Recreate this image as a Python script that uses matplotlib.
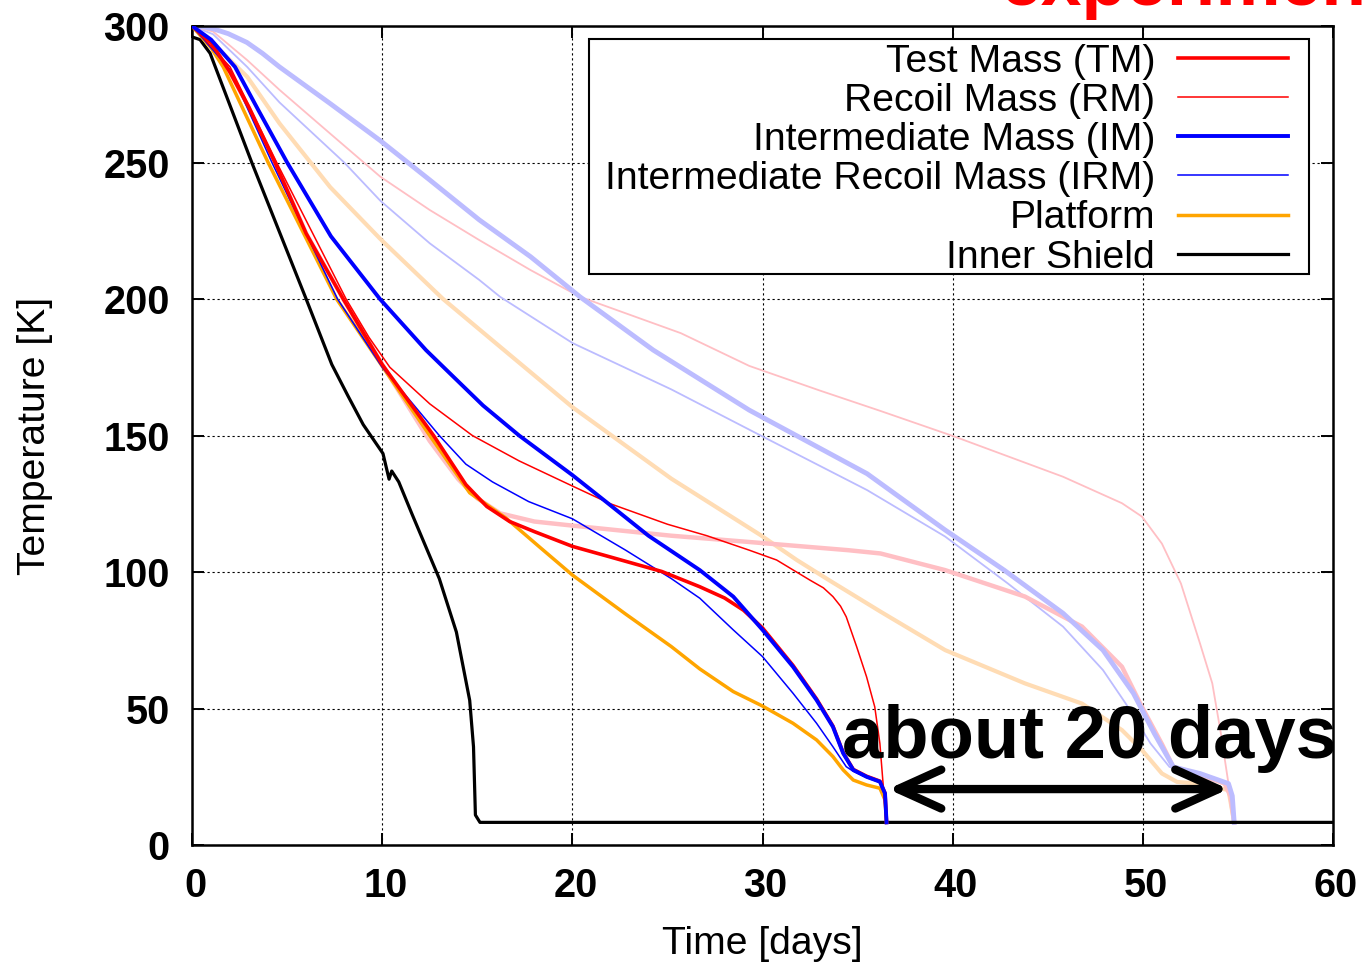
import matplotlib
matplotlib.use('Agg')
import matplotlib.pyplot as plt
from matplotlib.patches import Rectangle
from matplotlib.transforms import ScaledTranslation

plt.rcParams['font.family'] = ['Liberation Sans', 'DejaVu Sans']

# ---------------- data (days, Kelvin) ----------------
labels = ['Test Mass (TM)', 'Recoil Mass (RM)', 'Intermediate Mass (IM)',
          'Intermediate Recoil Mass (IRM)', 'Platform', 'Inner Shield']

tm_day = [0, 1, 2, 3, 4.36, 6, 7.95, 10, 12.7, 14.4, 15.5, 16.7, 18, 20, 22, 24.7, 26.7, 28.0, 29.0,
          30.0, 31.6, 32.84, 33.7, 34.24, 34.77, 35.47, 36.17, 36.44, 36.52]
tm_T = [300, 294, 283, 270, 250, 224, 200, 176, 150, 132, 124, 118.5, 114.8, 109.4, 105.5, 100.2, 94.6, 90.5, 86,
        79.5, 65.8, 53.5, 43.6, 33.8, 27.7, 25.2, 23.4, 19, 8.3]

rm_day = [0, 2, 4.45, 8.1, 9.3, 10.4, 12.5, 14.74, 17.2, 20, 22, 25, 27.07, 29.3, 30.74, 32.5, 33.2, 33.7,
          34.1, 34.4, 34.95, 35.47, 35.9, 36.17, 36.35, 36.5]
rm_T = [300, 285, 250, 200, 186, 175, 161.6, 150, 140.7, 131.5, 125, 117.5, 113.3, 108, 104.4, 97, 94.2, 91,
        87.5, 83.6, 72.6, 61.6, 50.6, 37.2, 21.4, 8.3]

im_day = [0, 1, 2.26, 3.5, 5.0, 7.3, 9.88, 12.3, 13.45, 15.3, 17.2, 20, 21.9, 24, 26.7, 28.46, 30.0, 31.6,
          32.84, 33.7, 34.24, 34.77, 35.47, 36.17, 36.44, 36.52]
im_T = [300, 295, 285, 269, 250, 223, 200, 181.3, 173.5, 161, 150, 135.5, 125, 113.3, 100.7, 91, 78.8, 65.3,
        53.1, 43.3, 33.6, 27.5, 25, 23.2, 18.9, 8.3]

irm_day = [0, 2, 4.2, 7.65, 10, 13, 14.4, 15.8, 17.7, 20, 22.8, 25.2, 26.7, 28.46, 30.0, 31.6, 32.84, 33.7,
           34.4, 34.77, 35.47, 36.17, 36.44, 36.52]
irm_T = [300, 284, 250, 200, 175, 150, 139.5, 133, 125.8, 119.5, 108, 97.6, 90.4, 78.8, 69, 55.6, 44.6, 36,
         28.7, 27, 24.7, 22.9, 18.7, 8.3]

pf_day = [0, 1, 1.64, 4.0, 7.6, 9.94, 12.5, 14.6, 16.5, 18.3, 20, 22.8, 25.2, 26.7, 28.46, 30.0, 31.6, 32.84,
          33.7, 34.24, 34.77, 35.47, 36.17, 36.44, 36.52]
pf_T = [300, 292, 285, 250, 200, 176, 150, 129, 119.8, 109, 98.9, 84.6, 72.7, 64.5, 56.2, 50.9, 44.6, 38.5,
        32.4, 27.5, 23.8, 22, 20.8, 16.5, 8.3]

is_day = [0, 0.42, 0.95, 3.14, 6.0, 7.35, 8.2, 9.0, 10.04, 10.36, 10.5, 10.87, 11.58, 13.0, 13.9, 14.6, 14.8,
          14.9, 15.14, 60]
is_T = [296, 295, 290, 250, 200, 176, 164.5, 154, 143.4, 134, 137, 133, 121, 97.6, 78, 53, 36, 11, 8.3, 8.3]

# faded (second) set of curves
tm2_day = [0, 1, 2, 3, 4.36, 6, 7.95, 10, 12.5, 14.0, 15.0, 16.2, 18, 20, 25.2, 29.3, 34.5, 36.2, 39.6, 43.8,
           46.8, 48.9, 49.95, 51.0, 51.6, 52.8, 54.3, 54.6, 54.8]
tm2_T = [300, 294, 283, 270, 250, 224, 200, 176, 148, 134, 127, 121.5, 118.5, 117, 113.3, 111, 108, 106.8, 100.7,
         91, 80, 65.3, 50.6, 37, 28.6, 26.2, 22.5, 18, 8.3]

rm2_day = [0, 1.1, 2.9, 4.6, 7.26, 9.9, 12.5, 15.1, 17.8, 20.4, 25.7, 27.5, 29.3, 33.0, 36.2, 40.1, 45.8, 48.9,
           49.95, 51.0, 52.0, 53.0, 53.65, 54.1, 54.5, 54.8]
rm2_T = [300, 298, 287.5, 276.6, 260.6, 244.8, 232.6, 221.6, 210.6, 200.8, 187.5, 181.5, 175.5, 166.5, 159, 149.6,
         134.9, 125.2, 120.3, 110.4, 95.8, 73.9, 59.2, 40.9, 22.5, 8.3]

im2_day = [0, 0.5, 1.1, 1.9, 2.88, 3.7, 4.6, 7.26, 9.9, 12.5, 15.1, 17.8, 20.4, 24.25, 29.3, 35.5, 39.6, 42.7,
           45.8, 47.9, 49.5, 50.6, 51.6, 53.0, 54.5, 54.7, 54.8]
im2_T = [300, 299.8, 299, 297.2, 294, 290, 285, 271.6, 258, 243.6, 229, 215.5, 200.8, 181.3, 159.3, 136, 115.4,
         100.7, 84.9, 71.4, 55.6, 40.9, 28.6, 26.2, 22.5, 18, 8.3]

irm2_day = [0, 1.1, 2.9, 4.6, 8.0, 9.9, 12.5, 15.1, 16.2, 20.0, 25.2, 29.9, 35.5, 39.6, 42.9, 45.8, 47.9, 49.1,
            50.4, 51.4, 53.0, 54.5, 54.7, 54.8]
irm2_T = [300, 297, 285, 272, 250, 236, 220.4, 207, 200.8, 183.9, 166.9, 150, 130, 113, 95.8, 80, 64.1, 51.8,
          37.2, 28.6, 26.2, 22.5, 18, 8.3]

pf2_day = [0, 1.1, 2.9, 4.6, 7.26, 9.9, 13.2, 16.2, 20.0, 25.2, 29.9, 31.8, 33.5, 36.2, 39.6, 43.8, 46.8, 48.9,
           49.95, 51.0, 51.8, 53.0, 54.5, 54.8]
pf2_T = [300, 293.6, 281.4, 264.3, 241, 222, 200, 182.5, 160.4, 134.2, 113.5, 104.4, 97, 85.5, 71.4, 59.2, 51.8,
         42.1, 34.8, 26.2, 23.1, 22.5, 20.1, 8.3]

x_ticks = [0, 10, 20, 30, 40, 50, 60]
y_ticks = [0, 50, 100, 150, 200, 250, 300]

# ---------------- figure ----------------
fig = plt.figure(figsize=(13.65, 9.63), dpi=100)
ax = fig.add_axes([0.1407, 0.1225, 0.8359, 0.8505])

pink = '#ffbfc4'
lav = '#bcbcff'
lorange = '#ffdcb4'

ax.plot(pf2_day, pf2_T, color=lorange, lw=3.0, zorder=2)
ax.plot(irm2_day, irm2_T, color=lav, lw=1.3, zorder=2)
ax.plot(rm2_day, rm2_T, color=pink, lw=1.3, zorder=2)
ax.plot(tm2_day, tm2_T, color=pink, lw=3.2, zorder=2)
ax.plot(im2_day, im2_T, color=lav, lw=3.5, zorder=2)

h_is, = ax.plot(is_day, is_T, color='black', lw=2.3, zorder=3)
h_pf, = ax.plot(pf_day, pf_T, color='#ffa500', lw=2.5, zorder=3)
h_irm, = ax.plot(irm_day, irm_T, color='#0000ff', lw=1.1, zorder=3)
h_rm, = ax.plot(rm_day, rm_T, color='#ff0000', lw=1.1, zorder=3)
h_tm, = ax.plot(tm_day, tm_T, color='#ff0000', lw=2.6, zorder=3)
h_im, = ax.plot(im_day, im_T, color='#0000ff', lw=2.8, zorder=3)

ax.set_xlim(0, 60)
ax.set_ylim(0, 300)
ax.set_xticks(x_ticks)
ax.set_yticks(y_ticks)
ax.tick_params(direction='in', length=8.6, width=1.4, top=True, right=True,
               labelsize=28.5)
ax.tick_params(axis='y', pad=16)
ax.tick_params(axis='x', pad=16)
for lab in ax.get_xticklabels() + ax.get_yticklabels():
    lab.set_fontweight('bold')
for lab in ax.get_xticklabels():
    lab.set_transform(lab.get_transform() + ScaledTranslation(3 / 100, 0, fig.dpi_scale_trans))
ax.grid(True, color='black', lw=0.8, linestyle=(0, (2, 2.5)))
ax.set_axisbelow(True)
for s in ax.spines.values():
    s.set_linewidth(1.8)

ax.set_xlabel('Time [days]', fontsize=28.2, labelpad=15)
ax.set_ylabel('Temperature [K]', fontsize=28.2, labelpad=36)

# legend: frame drawn as a separate box, entries via ax.legend
frame = Rectangle((0.3479, 0.6972), 0.979 - 0.3479, 0.9841 - 0.6972, transform=ax.transAxes,
                  facecolor='white', edgecolor='black', lw=1.5, zorder=4.5)
ax.add_patch(frame)
leg = ax.legend([h_tm, h_rm, h_im, h_irm, h_pf, h_is], labels, loc='upper right',
                bbox_to_anchor=(0.9606, 0.9786), borderaxespad=0, fontsize=28.2,
                markerfirst=False, handlelength=2.806, handletextpad=0.587,
                labelspacing=0.082, borderpad=0, frameon=False)
leg.set_zorder(5)

# annotation
ax.text(34.2, 31.9, 'about 20 days', fontsize=53.5, fontweight='bold', ha='left',
        va='baseline', zorder=6)
ax.annotate('', xy=(54.5, 20.5), xytext=(36.6, 20.5),
            arrowprops=dict(arrowstyle='<->,head_length=3.1,head_width=1.4', lw=6,
                            color='black', shrinkA=0, shrinkB=0, mutation_scale=10,
                            capstyle='round', joinstyle='round'), zorder=6)

fig.text(1000 / 1365, 1 - 5 / 963, 'experiment', fontsize=52.7, fontweight='bold',
         color='#ff0000', ha='left', va='baseline')

fig.savefig('out.png', dpi=100)
